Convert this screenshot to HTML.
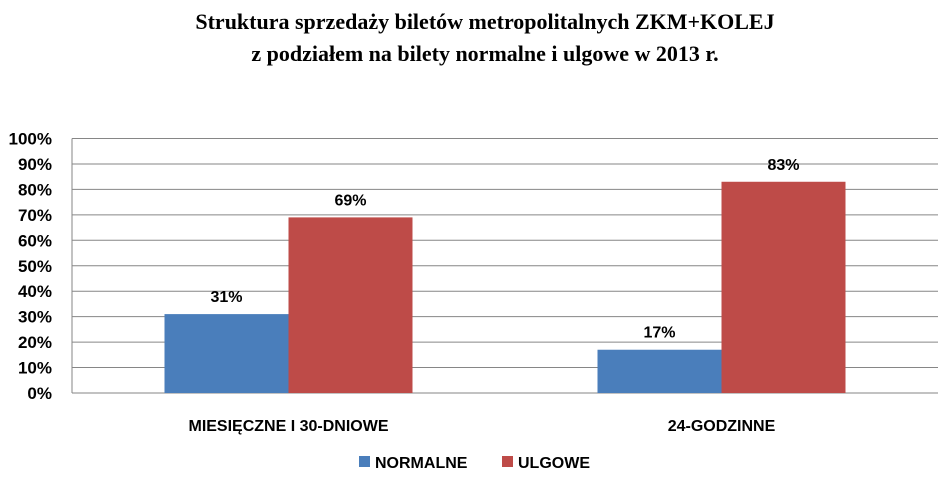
<!DOCTYPE html>
<html><head><meta charset="utf-8"><style>
body{margin:0;background:#fff;}
svg{display:block;font-family:"Liberation Sans",sans-serif;}
</style></head><body>
<svg id="chart" width="946" height="487">
<text x="485" y="29" text-anchor="middle" font-family="Liberation Serif,serif" font-weight="bold" font-size="22">Struktura sprzedaży biletów metropolitalnych ZKM+KOLEJ</text>
<text x="485" y="61" text-anchor="middle" font-family="Liberation Serif,serif" font-weight="bold" font-size="22">z podziałem na bilety normalne i ulgowe w 2013 r.</text>
<g id="grid"></g><g id="bars"></g><g id="labels"></g>
<rect x="359" y="456" width="11" height="11" fill="#4A7EBB"/>
<text x="375" y="468" font-size="16" font-weight="bold">NORMALNE</text>
<rect x="502" y="456" width="11" height="11" fill="#BE4B48"/>
<text x="518" y="468" font-size="16" font-weight="bold">ULGOWE</text>
</svg>
<script>
const categories=["MIESIĘCZNE I 30-DNIOWE","24-GODZINNE"];
const normalne=[31,17];
const ulgowe=[69,83];
const ticks=[0,10,20,30,40,50,60,70,80,90,100];
const NS="http://www.w3.org/2000/svg";
const X0=72,X1=938,Y0=393,Y1=138.5;
const y=v=>Y0-(v/100)*(Y0-Y1);
const cw=(X1-X0)/categories.length;
const cx=i=>X0+cw*(i+0.5);
const BW=124;
function mk(t,a,p){const e=document.createElementNS(NS,t);for(const k in a)e.setAttribute(k,a[k]);p.appendChild(e);return e;}
const g=document.getElementById('grid'),b=document.getElementById('bars'),l=document.getElementById('labels');
ticks.forEach(t=>{
 const ln=mk('line',{x1:X0,x2:X1,y1:y(t),y2:y(t),stroke:'#868686','stroke-width':1},g);
 
 
 const tx=mk('text',{x:52,y:y(t)+6,'text-anchor':'end','font-size':17,'font-weight':'bold'},g);
 tx.textContent=t+'%';
 
 
});
const ax=mk('line',{x1:X0,x2:X0,y1:Y1,y2:Y0,stroke:'#868686'},g);


categories.forEach((c,i)=>{
 [[normalne[i],'#4A7EBB',-BW,'bar-normalne'],[ulgowe[i],'#BE4B48',0,'bar-ulgowe']].forEach(([v,col,off,nm])=>{
  const r=mk('rect',{x:cx(i)+off,y:y(v),width:BW,height:Y0-y(v),fill:col},b);
  
  
  const t=mk('text',{x:cx(i)+off+BW/2,y:y(v)-12,'text-anchor':'middle','font-size':16,'font-weight':'bold'},l);
  t.textContent=v+'%';
  
  
 });
 const ct=mk('text',{x:cx(i),y:431,'text-anchor':'middle','font-size':16,'font-weight':'bold'},l);
 ct.textContent=c;
 
 
});
</script>
</body></html>
